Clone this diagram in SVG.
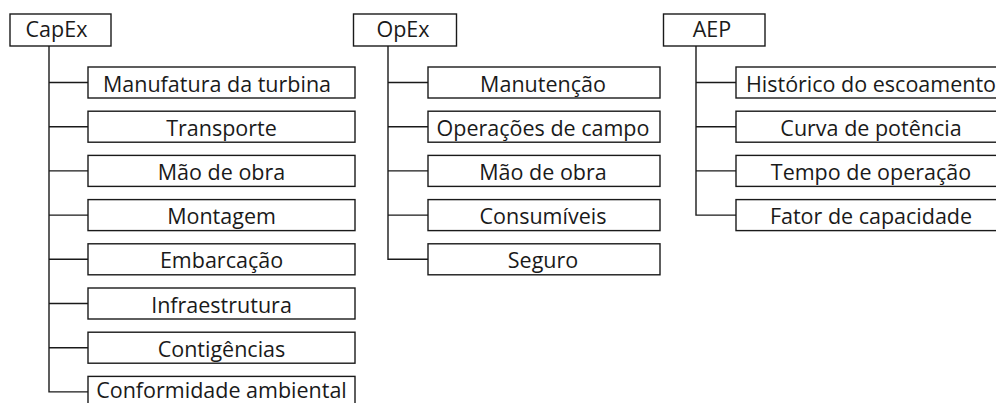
<svg xmlns="http://www.w3.org/2000/svg" width="996" height="403" viewBox="0 0 996 403">
<style>
.box{fill:#fff;stroke:#1a1a1a;stroke-width:1.4}
.ln{fill:none;stroke:#1a1a1a;stroke-width:1.4}
text{font-family:"Open Sans","Noto Sans","Liberation Sans",sans-serif;font-size:21.5px;fill:#1a1a1a;text-anchor:middle}
</style>
<rect width="996" height="403" fill="#fff"/>
<g id="connectors">
<path class="ln" d="M49 46V391.9H88M49 82.5H88M49 126.7H88M49 170.9H88M49 215.1H88M49 259.3H88M49 303.5H88M49 347.7H88"/>
<path class="ln" d="M388 46V259.3H428M388 82.5H428M388 126.7H428M388 170.9H428M388 215.1H428"/>
<path class="ln" d="M696 46V215.1H736M696 82.5H736M696 126.7H736M696 170.9H736"/>
</g>
<g id="capex"><rect class="box" x="10" y="14" width="101" height="32"/><text x="56.5" y="37">CapEx</text></g>
<g id="c1"><rect class="box" x="88" y="67" width="267" height="31"/><text x="217" y="91.5">Manufatura da turbina</text></g>
<g id="c2"><rect class="box" x="88" y="111.2" width="267" height="31"/><text x="221.5" y="135.7">Transporte</text></g>
<g id="c3"><rect class="box" x="88" y="155.4" width="267" height="31"/><text x="221.5" y="179.9">Mão de obra</text></g>
<g id="c4"><rect class="box" x="88" y="199.6" width="267" height="31"/><text x="221.5" y="224.1">Montagem</text></g>
<g id="c5"><rect class="box" x="88" y="243.8" width="267" height="31"/><text x="221.5" y="268.3">Embarcação</text></g>
<g id="c6"><rect class="box" x="88" y="288" width="267" height="31"/><text x="221.5" y="312.5">Infraestrutura</text></g>
<g id="c7"><rect class="box" x="88" y="332.2" width="267" height="31"/><text x="221.5" y="356.7">Contigências</text></g>
<g id="c8"><rect class="box" x="88" y="376.4" width="267" height="31"/><text x="221.5" y="398">Conformidade ambiental</text></g>
<g id="opex"><rect class="box" x="353.5" y="14" width="103" height="32"/><text x="403" y="37">OpEx</text></g>
<g id="o1"><rect class="box" x="428" y="67" width="232" height="31"/><text x="543" y="91.5">Manutenção</text></g>
<g id="o2"><rect class="box" x="428" y="111.2" width="232" height="31"/><text x="543" y="135.7">Operações de campo</text></g>
<g id="o3"><rect class="box" x="428" y="155.4" width="232" height="31"/><text x="543" y="179.9">Mão de obra</text></g>
<g id="o4"><rect class="box" x="428" y="199.6" width="232" height="31"/><text x="543" y="224.1">Consumíveis</text></g>
<g id="o5"><rect class="box" x="428" y="243.8" width="232" height="31"/><text x="543" y="268.3">Seguro</text></g>
<g id="aep"><rect class="box" x="663.5" y="14" width="101.5" height="32"/><text x="712" y="37">AEP</text></g>
<g id="a1"><rect class="box" x="736" y="67" width="270" height="31"/><text x="871" y="91.5">Histórico do escoamento</text></g>
<g id="a2"><rect class="box" x="736" y="111.2" width="270" height="31"/><text x="871" y="135.7">Curva de potência</text></g>
<g id="a3"><rect class="box" x="736" y="155.4" width="270" height="31"/><text x="871" y="179.9">Tempo de operação</text></g>
<g id="a4"><rect class="box" x="736" y="199.6" width="270" height="31"/><text x="871" y="224.1">Fator de capacidade</text></g>
</svg>
